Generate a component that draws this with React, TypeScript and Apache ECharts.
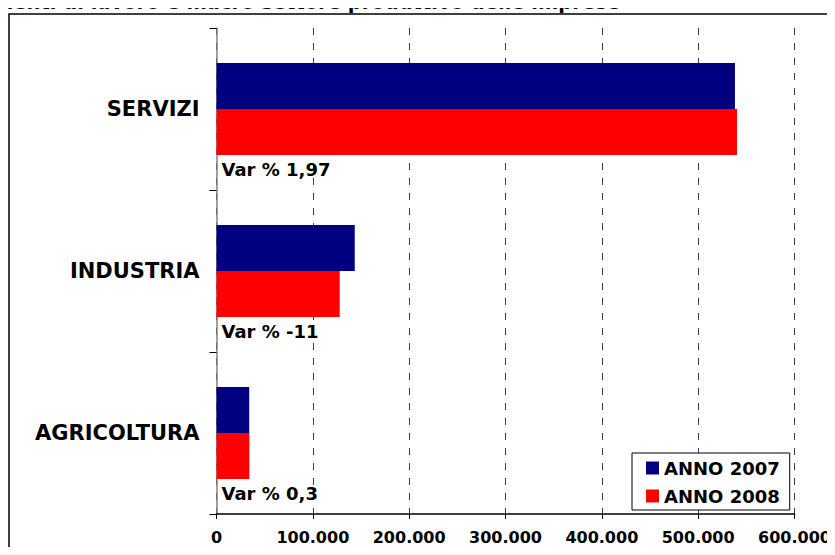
import React, { useEffect, useRef } from "react";
import * as echarts from "echarts";

const categories = ["AGRICOLTURA", "INDUSTRIA", "SERVIZI"];
const anno2007 = [34000, 143500, 538200];
const anno2008 = [34100, 127900, 540300];
const varPct = ["0,3", "-11", "1,97"];
const seriesNames = ["ANNO 2007", "ANNO 2008"];
const xTicks = { min: 0, max: 600000, interval: 100000 };
const titleText = "Avviamenti di lavoro e macro settore produttivo delle imprese";

const FONT = "DejaVu Sans";

function fmt(v: number) {
  if (v === 0) return "0";
  const s = String(Math.round(v));
  return s.replace(/\B(?=(\d{3})+(?!\d))/g, ".");
}

export default function App() {
  const ref = useRef<HTMLDivElement>(null);
  useEffect(() => {
    if (!ref.current) return;
    const chart = echarts.init(ref.current, undefined, { renderer: "svg" });
    chart.setOption({
      animation: false,
      backgroundColor: "#ffffff",
      textStyle: { fontFamily: FONT },
      grid: { left: 216.5, right: 40.5, top: 28, bottom: 41, containLabel: false },
      xAxis: {
        type: "value",
        min: xTicks.min,
        max: xTicks.max,
        interval: xTicks.interval,
        axisLine: { show: true, lineStyle: { color: "#000", width: 1.5 } },
        axisTick: { show: true, length: 5, lineStyle: { color: "#000" } },
        axisLabel: {
          formatter: (v: number) => fmt(v),
          color: "#000",
          fontWeight: "bold",
          fontSize: 16,
          fontFamily: FONT,
          margin: 15,
        },
        splitLine: {
          show: true,
          lineStyle: { color: "#404040", type: [7, 8], width: 1 },
        },
      },
      yAxis: {
        type: "category",
        data: categories,
        axisLine: { show: true, lineStyle: { color: "#808080", width: 1.5 } },
        axisTick: { show: true, length: 7, lineStyle: { color: "#000" } },
        axisLabel: {
          color: "#000",
          fontWeight: "bold",
          fontSize: 21,
          fontFamily: FONT,
          margin: 17,
        },
        splitLine: { show: false },
      },
      legend: {
        orient: "vertical",
        left: 632,
        top: 453,
        width: 162,
        padding: [6, 10, 5, 14],
        itemGap: 10,
        itemWidth: 13,
        itemHeight: 13,
        icon: "rect",
        borderColor: "#000",
        borderWidth: 1,
        backgroundColor: "#fff",
        data: seriesNames,
        textStyle: { fontFamily: FONT, fontWeight: "bold", fontSize: 18, color: "#000" },
      },
      graphic: [
        {
          type: "rect",
          shape: { x: 9, y: 14, width: 900, height: 600 },
          style: { fill: "none", stroke: "#000", lineWidth: 1.5 },
          silent: true,
        },
        {
          type: "text",
          x: 620,
          y: 12.5,
          style: {
            text: titleText,
            fontFamily: FONT,
            fontWeight: "bold",
            fontSize: 19.5,
            fill: "#000",
            align: "right",
            verticalAlign: "bottom",
          },
        },
      ],
      series: [
        {
          name: seriesNames[0],
          type: "bar",
          data: anno2007,
          barWidth: 46,
          barGap: "0%",
          itemStyle: { color: "#000080" },
        },
        {
          name: seriesNames[1],
          type: "bar",
          data: anno2008,
          barWidth: 46,
          barGap: "0%",
          itemStyle: { color: "#ff0000" },
          label: {
            show: true,
            position: [5, 51],
            formatter: (p: any) => "Var % " + varPct[p.dataIndex],
            color: "#000",
            fontWeight: "bold",
            fontSize: 18,
            fontFamily: FONT,
          },
        },
      ],
    });
    return () => chart.dispose();
  }, []);
  return <div ref={ref} style={{ width: 835, height: 555, margin: -8 }} />;
}
